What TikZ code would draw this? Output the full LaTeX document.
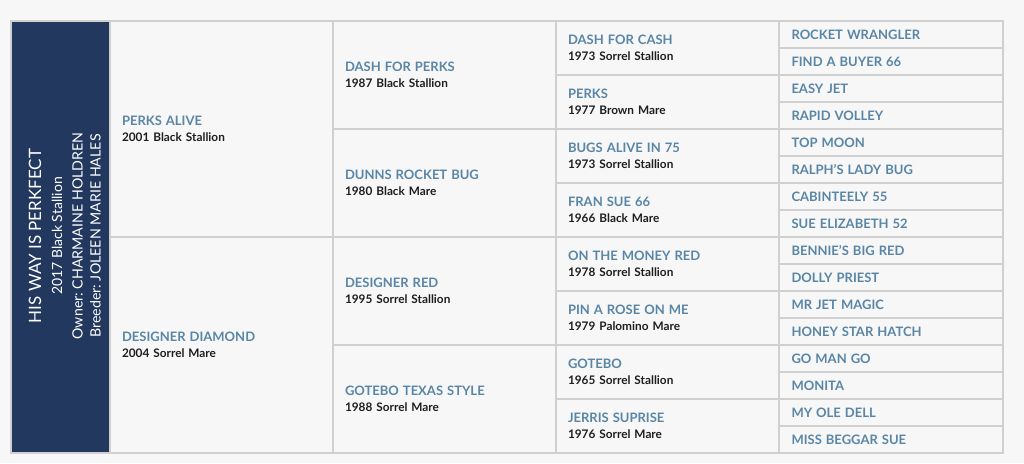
\documentclass[tikz,border=0pt]{standalone}
\usepackage{fontspec}
\setmainfont{Lato}
\usepackage{tikz}
\usepackage{xcolor}
\usetikzlibrary{positioning}
\frenchspacing
\definecolor{navy}{HTML}{22385F}
\definecolor{pageback}{HTML}{F7F7F7}
\definecolor{gridline}{HTML}{D0D0D0}
\definecolor{horseblue}{HTML}{5986A6}
\definecolor{infotext}{HTML}{1E1E1E}
\newcommand{\hname}[1]{{\color{horseblue}\fontsize{13}{16}\selectfont\bfseries #1}}
\newcommand{\hinfo}[1]{{\color{infotext}\fontsize{11.8}{16}\selectfont\bfseries #1}}
\tikzset{%
	cell/.style    = {draw=gridline, line width=2pt, rectangle, anchor=north west, inner xsep=12pt, inner ysep=0pt, outer sep=0pt, minimum width=223pt, text width=199pt, align=left, fill=pageback, font=\fontsize{12}{16.5}\selectfont},
	eighth/.style  = {cell, minimum height=54pt},
	sixteenth/.style = {cell, minimum height=27pt},
	sidetext/.style = {white, rotate=90, anchor=center, inner sep=0pt},
}

\begin{document}
\begin{tikzpicture}[x=1pt,y=-1pt]
	\useasboundingbox[fill=pageback] (0,0) rectangle (1024,463);
	% subject of the pedigree
	\node[draw=gridline, line width=2pt, fill=navy, anchor=north west, minimum width=99pt, minimum height=432pt, inner sep=0pt, outer sep=0pt] (subject) at (11,21) {};
	\node[sidetext, font=\fontsize{17}{20}\selectfont] (horsename) at (35,236) {HIS WAY IS PERKFECT};
	\node[sidetext, font=\fontsize{14}{16}\selectfont] (horseinfo) at (57,236) {2017 Black Stallion};
	\node[sidetext, font=\fontsize{14.2}{16}\selectfont] (owner) at (77.5,236) {Owner: CHARMAINE HOLDREN};
	\node[sidetext, font=\fontsize{14.2}{16}\selectfont] (breeder) at (95.5,236) {Breeder: JOLEEN MARIE HALES};
	
	% parents
	\node[cell, minimum height=216pt] (sire) at (110,21) {\hname{PERKS ALIVE}\\\hinfo{2001 Black Stallion}};
	\node[cell, minimum height=216pt] (dam) at (110,237) {\hname{DESIGNER DIAMOND}\\\hinfo{2004 Sorrel Mare}};
	
	% grandparents
	\node[cell, minimum height=108pt] (gs1) at (333,21) {\hname{DASH FOR PERKS}\\\hinfo{1987 Black Stallion}};
	\node[cell, minimum height=108pt] (gd1) at (333,129) {\hname{DUNNS ROCKET BUG}\\\hinfo{1980 Black Mare}};
	\node[cell, minimum height=108pt] (gs2) at (333,237) {\hname{DESIGNER RED}\\\hinfo{1995 Sorrel Stallion}};
	\node[cell, minimum height=108pt] (gd2) at (333,345) {\hname{GOTEBO TEXAS STYLE}\\\hinfo{1988 Sorrel Mare}};
	
	% great grandparents
	\node[eighth] (ggp1) at (556,21) {\hname{DASH FOR CASH}\\\hinfo{1973 Sorrel Stallion}};
	\node[eighth] (ggp2) at (556,75) {\hname{PERKS}\\\hinfo{1977 Brown Mare}};
	\node[eighth] (ggp3) at (556,129) {\hname{BUGS ALIVE IN 75}\\\hinfo{1973 Sorrel Stallion}};
	\node[eighth] (ggp4) at (556,183) {\hname{FRAN SUE 66}\\\hinfo{1966 Black Mare}};
	\node[eighth] (ggp5) at (556,237) {\hname{ON THE MONEY RED}\\\hinfo{1978 Sorrel Stallion}};
	\node[eighth] (ggp6) at (556,291) {\hname{PIN A ROSE ON ME}\\\hinfo{1979 Palomino Mare}};
	\node[eighth] (ggp7) at (556,345) {\hname{GOTEBO}\\\hinfo{1965 Sorrel Stallion}};
	\node[eighth] (ggp8) at (556,399) {\hname{JERRIS SUPRISE}\\\hinfo{1976 Sorrel Mare}};
	
	% great great grandparents
	\foreach \horse [count=\i from 0] in {ROCKET WRANGLER, FIND A BUYER 66, EASY JET, RAPID VOLLEY, TOP MOON, RALPH'S LADY BUG, CABINTEELY 55, SUE ELIZABETH 52, BENNIE'S BIG RED, DOLLY PRIEST, MR JET MAGIC, HONEY STAR HATCH, GO MAN GO, MONITA, MY OLE DELL, MISS BEGGAR SUE}
		\node[sixteenth, minimum width=224pt] (gggp\i) at (779,21+27*\i) {\hname{\horse}};
\end{tikzpicture}
\end{document}
